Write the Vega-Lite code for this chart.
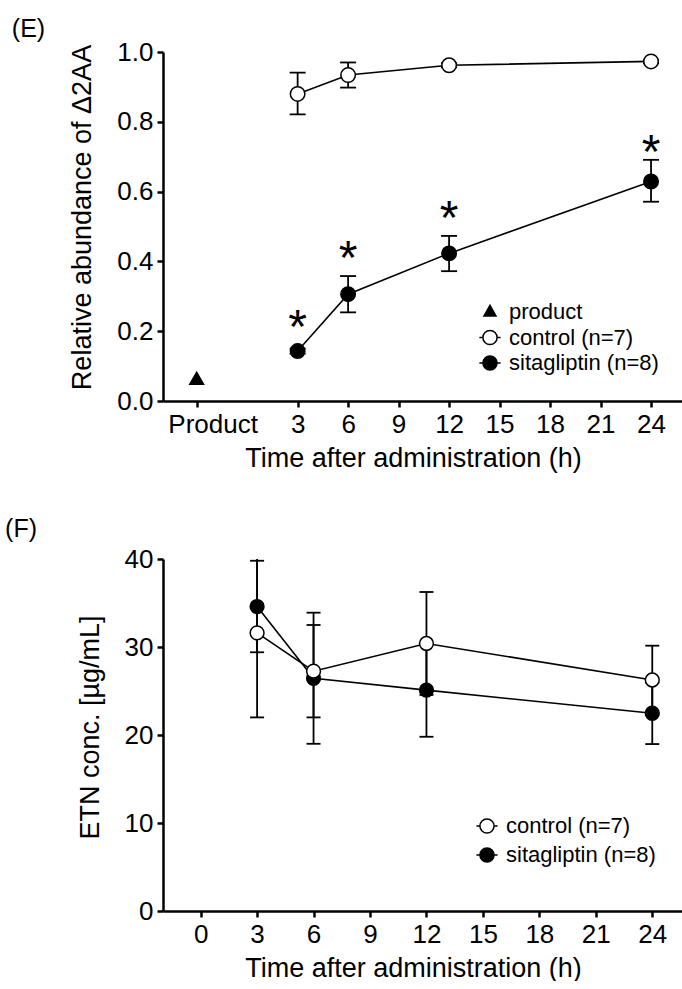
{
  "$schema": "https://vega.github.io/schema/vega-lite/v6.json",
  "background": "white",
  "padding": {"left": 5, "top": 17, "right": 0, "bottom": 0},
  "spacing": 46,
  "resolve": {"scale": {"fill": "independent"}, "legend": {"fill": "independent"}},
  "config": {
    "font": "Liberation Sans",
    "view": {"stroke": null},
    "axis": {
      "grid": false,
      "domainColor": "black",
      "domainWidth": 2.5,
      "tickColor": "black",
      "tickWidth": 2.5,
      "tickSize": 6,
      "labelFont": "Liberation Sans",
      "labelFontSize": 26,
      "labelColor": "black",
      "labelPadding": 4,
      "labelFlush": false,
      "labelOverlap": false,
      "titleFont": "Liberation Sans",
      "titleFontSize": 27,
      "titleFontWeight": "normal",
      "titleColor": "black"
    },
    "legend": {
      "labelFont": "Liberation Sans",
      "labelFontSize": 22,
      "labelColor": "black",
      "symbolStrokeColor": "black",
      "symbolStrokeWidth": 1.5,
      "symbolOpacity": 1,
      "symbolSize": 200,
      "labelOffset": 8,
      "rowPadding": 3.5
    }
  },
  "datasets": {
    "abundance": [
      {"time": -3, "group": "product", "mean": 0.065, "lo": null, "hi": null},
      {"time": 3, "group": "control", "mean": 0.88, "lo": 0.821, "hi": 0.941},
      {"time": 6, "group": "control", "mean": 0.934, "lo": 0.898, "hi": 0.97},
      {"time": 12, "group": "control", "mean": 0.962, "lo": 0.956, "hi": 0.968},
      {"time": 24, "group": "control", "mean": 0.973, "lo": 0.968, "hi": 0.978},
      {"time": 3, "group": "sitagliptin", "mean": 0.143, "lo": 0.136, "hi": 0.15},
      {"time": 6, "group": "sitagliptin", "mean": 0.306, "lo": 0.254, "hi": 0.358},
      {"time": 12, "group": "sitagliptin", "mean": 0.423, "lo": 0.372, "hi": 0.473},
      {"time": 24, "group": "sitagliptin", "mean": 0.629, "lo": 0.571, "hi": 0.691}
    ],
    "significance": [
      {"time": 3, "y": 0.227},
      {"time": 6, "y": 0.423},
      {"time": 12, "y": 0.538},
      {"time": 24, "y": 0.729}
    ],
    "etn": [
      {"time": 3, "group": "sitagliptin", "mean": 34.6, "lo": 29.4, "hi": 39.8},
      {"time": 6, "group": "sitagliptin", "mean": 26.45, "lo": 19.0, "hi": 33.9},
      {"time": 12, "group": "sitagliptin", "mean": 25.1, "lo": 19.8, "hi": 30.4},
      {"time": 24, "group": "sitagliptin", "mean": 22.47, "lo": 18.97, "hi": 25.97},
      {"time": 3, "group": "control", "mean": 31.6, "lo": 22.0, "hi": 41.2},
      {"time": 6, "group": "control", "mean": 27.25, "lo": 22.0, "hi": 32.5},
      {"time": 12, "group": "control", "mean": 30.4, "lo": 24.55, "hi": 36.25},
      {"time": 24, "group": "control", "mean": 26.25, "lo": 22.35, "hi": 30.15}
    ]
  },
  "vconcat": [
    {
      "title": {"text": "(E)", "font": "Liberation Sans", "fontSize": 25, "fontWeight": "normal", "color": "black", "anchor": "start", "frame": "bounds", "dx": -57, "offset": -3},
      "width": 519,
      "height": 349,
      "encoding": {
        "x": {
          "field": "time",
          "type": "quantitative",
          "scale": {"domain": [-5, 25.84], "nice": false, "zero": false},
          "axis": {
            "values": [-3, 3, 6, 9, 12, 15, 18, 21, 24],
            "labelExpr": "datum.value == -3 ? 'Product' : datum.label",
            "labelOffset": {"condition": {"test": "datum.value == -3", "value": 16}, "value": 0},
            "title": "Time after administration (h)",
            "titleX": 250,
            "titlePadding": 8
          }
        }
      },
      "layer": [
        {
          "data": {"name": "abundance"},
          "transform": [{"filter": "datum.group != 'product'"}],
          "mark": {"type": "line", "color": "black", "strokeWidth": 1.6},
          "encoding": {
            "y": {
              "field": "mean",
              "type": "quantitative",
              "scale": {"domain": [0, 1], "nice": false},
              "axis": {
                "values": [0, 0.2, 0.4, 0.6, 0.8, 1],
                "format": ".1f",
                "title": "Relative abundance of Δ2AA",
                "titleY": 165,
                "titlePadding": 20
              }
            },
            "detail": {"field": "group"}
          }
        },
        {
          "data": {"name": "abundance"},
          "transform": [{"filter": "datum.lo != null"}],
          "mark": {"type": "rule", "color": "black", "strokeWidth": 1.8},
          "encoding": {
            "y": {"field": "lo", "type": "quantitative"},
            "y2": {"field": "hi"}
          }
        },
        {
          "data": {"name": "abundance"},
          "transform": [{"filter": "datum.lo != null"}],
          "mark": {"type": "tick", "orient": "horizontal", "color": "black", "size": 16, "thickness": 1.8, "opacity": 1},
          "encoding": {"y": {"field": "lo", "type": "quantitative"}}
        },
        {
          "data": {"name": "abundance"},
          "transform": [{"filter": "datum.hi != null"}],
          "mark": {"type": "tick", "orient": "horizontal", "color": "black", "size": 16, "thickness": 1.8, "opacity": 1},
          "encoding": {"y": {"field": "hi", "type": "quantitative"}}
        },
        {
          "data": {"name": "abundance"},
          "transform": [{"filter": "datum.group == 'product'"}],
          "mark": {"type": "point", "shape": "triangle-up", "filled": true, "stroke": "black", "strokeWidth": 1.5, "size": 190, "opacity": 1},
          "encoding": {
            "y": {"field": "mean", "type": "quantitative"},
            "fill": {"field": "group", "type": "nominal"}
          }
        },
        {
          "data": {"name": "abundance"},
          "transform": [{"filter": "datum.group != 'product'"}],
          "mark": {"type": "point", "shape": "circle", "filled": true, "stroke": "black", "strokeWidth": 1.5, "size": 210, "opacity": 1},
          "encoding": {
            "y": {"field": "mean", "type": "quantitative"},
            "fill": {
              "field": "group",
              "type": "nominal",
              "scale": {"domain": ["product", "control", "sitagliptin"], "range": ["black", "white", "black"]},
              "legend": {
                "title": null,
                "orient": "none",
                "legendX": 316,
                "legendY": 249,
                "labelExpr": "datum.value == 'product' ? 'product' : datum.value == 'control' ? 'control (n=7)' : 'sitagliptin (n=8)'",
                "encode": {
                  "symbols": {
                    "update": {
                      "shape": {"signal": "datum.value == 'product' ? 'M0,-0.95L0.85,0.55L-0.85,0.55Z' : 'M-1.5,0H-1M1,0H1.5M1,0A1,1,0,1,1,-1,0A1,1,0,1,1,1,0Z'"}
                    }
                  }
                }
              }
            }
          }
        },
        {
          "data": {"name": "significance"},
          "mark": {"type": "text", "text": "*", "font": "Liberation Sans", "fontSize": 48, "baseline": "alphabetic", "dy": 21, "color": "black"},
          "encoding": {"y": {"field": "y", "type": "quantitative"}}
        }
      ]
    },
    {
      "title": {"text": "(F)", "font": "Liberation Sans", "fontSize": 25, "fontWeight": "normal", "color": "black", "anchor": "start", "frame": "bounds", "dx": -71, "offset": 4},
      "width": 519,
      "height": 352,
      "data": {"name": "etn"},
      "encoding": {
        "x": {
          "field": "time",
          "type": "quantitative",
          "scale": {"domain": [-2, 25.58], "nice": false, "zero": false},
          "axis": {
            "values": [0, 3, 6, 9, 12, 15, 18, 21, 24],
            "title": "Time after administration (h)",
            "titleX": 250,
            "titlePadding": 8
          }
        }
      },
      "layer": [
        {
          "mark": {"type": "line", "color": "black", "strokeWidth": 1.6},
          "encoding": {
            "y": {
              "field": "mean",
              "type": "quantitative",
              "scale": {"domain": [0, 40], "nice": false},
              "axis": {
                "values": [0, 10, 20, 30, 40],
                "title": "ETN conc. [µg/mL]",
                "titleY": 168,
                "titlePadding": 20
              }
            },
            "detail": {"field": "group"}
          }
        },
        {
          "mark": {"type": "rule", "color": "black", "strokeWidth": 1.8, "clip": true},
          "encoding": {
            "y": {"field": "lo", "type": "quantitative"},
            "y2": {"field": "hi"}
          }
        },
        {
          "mark": {"type": "tick", "orient": "horizontal", "color": "black", "size": 14, "thickness": 1.8, "opacity": 1, "clip": true},
          "encoding": {"y": {"field": "lo", "type": "quantitative"}}
        },
        {
          "mark": {"type": "tick", "orient": "horizontal", "color": "black", "size": 14, "thickness": 1.8, "opacity": 1, "clip": true},
          "encoding": {"y": {"field": "hi", "type": "quantitative"}}
        },
        {
          "mark": {"type": "point", "filled": true, "stroke": "black", "strokeWidth": 1.5, "size": 190, "opacity": 1},
          "encoding": {
            "y": {"field": "mean", "type": "quantitative"},
            "fill": {
              "field": "group",
              "type": "nominal",
              "scale": {"domain": ["control", "sitagliptin"], "range": ["white", "black"]},
              "legend": {
                "title": null,
                "orient": "none",
                "legendX": 313,
                "legendY": 256,
                "labelExpr": "datum.value == 'control' ? 'control (n=7)' : 'sitagliptin (n=8)'",
                "rowPadding": 7,
                "encode": {
                  "symbols": {
                    "update": {
                      "shape": {"value": "M-1.5,0H-1M1,0H1.5M1,0A1,1,0,1,1,-1,0A1,1,0,1,1,1,0Z"}
                    }
                  }
                }
              }
            }
          }
        }
      ]
    }
  ]
}
